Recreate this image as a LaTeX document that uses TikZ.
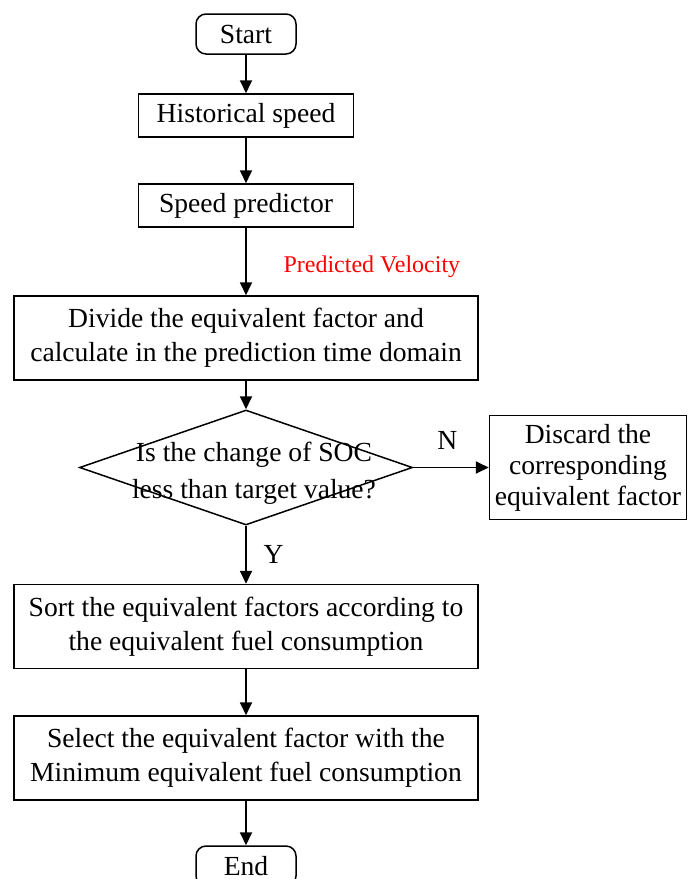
\documentclass[tikz,border=0pt]{standalone}
\usepackage{fontspec}
\setmainfont{Liberation Serif}
\usetikzlibrary{arrows.meta,positioning,shapes.geometric}

\begin{document}
\begin{tikzpicture}[x=0.5pt, y=-0.5pt, on grid, >={Triangle[length=6.5pt,width=6pt]},
        font=\fontsize{13.8}{17}\selectfont,
        box/.style={draw, line width=0.75pt, align=center, inner sep=0pt},
        terminal/.style={box, rounded corners=5pt, minimum width=50pt, minimum height=20pt},
        small/.style={box, minimum width=107.5pt, minimum height=21.5pt},
        wide/.style={box, minimum width=232pt, minimum height=42pt},
        flow/.style={->, line width=0.9pt}]
        \useasboundingbox (0,0) rectangle (688,879);

        \node[terminal] (start) at (246,34) {Start};
        \node[small, below=40.75pt of start] (hist) {Historical speed};
        \node[small, below=45pt of hist] (pred) {Speed predictor};

        \node[wide, below=66.25pt of pred] (divide) {Divide the equivalent factor and\\calculate in the prediction time domain};

        \node[diamond, draw, line width=0.75pt, minimum width=166.5pt, minimum height=57.5pt, inner sep=0pt, below=64.75pt of divide] (dec) {};
        \node[align=center, xshift=4pt, yshift=-3pt, font=\fontsize{13.8}{18.5}\selectfont] (dectxt) at (dec) {Is the change of SOC\\less than target value?};
        \node[box, minimum width=98.5pt, minimum height=52pt, right=171pt of dec, font=\fontsize{13.8}{15.5}\selectfont] (discard) {Discard the\\corresponding\\equivalent factor};

        \node[wide, below=79.5pt of dec] (sort) {Sort the equivalent factors according to\\the equivalent fuel consumption};
        \node[wide, below=65.75pt of sort] (select) {Select the equivalent factor with the\\Minimum equivalent fuel consumption};
        \node[terminal, below=54pt of select] (end) {End};

        \draw[flow] (start) -- (hist);
        \draw[flow] (hist) -- (pred);
        \draw[flow] (pred) -- node[right=15pt, yshift=-2.5pt, text=red, font=\fontsize{12}{14}\selectfont]{Predicted Velocity} (divide);
        \draw[flow] (divide) -- (dec);
        \draw[flow] (dec.east) -- node[above=5pt, pos=0.45]{N} (discard);
        \draw[flow] (dec.south) -- node[right=5pt]{Y} (sort);
        \draw[flow] (sort) -- (select);
        \draw[flow] (select) -- (end);
    \end{tikzpicture}
\end{document}
